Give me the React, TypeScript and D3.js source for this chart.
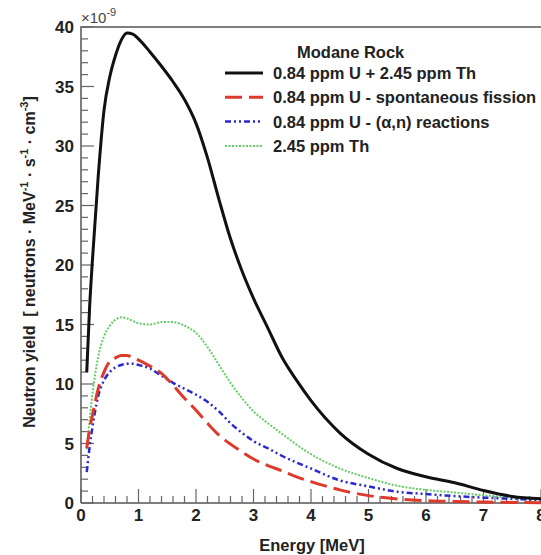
import React, { useEffect, useRef } from 'react';
import * as d3 from 'd3';

// energy grid [MeV]
const energy = [0.1, 0.15, 0.2, 0.3, 0.4, 0.5, 0.6, 0.7, 0.8, 0.9, 1.0, 1.2, 1.4, 1.6, 1.8, 2.0, 2.2, 2.4, 2.6, 2.8, 3.0, 3.25, 3.5, 3.75, 4.0, 4.5, 5.0, 5.5, 6.0, 6.5, 7.0, 7.5, 8.0];

// yields in units of 1e-9
const total = [11.0, 16.5, 20.5, 27.5, 33.0, 35.8, 37.6, 38.9, 39.5, 39.4, 39.0, 37.9, 36.7, 35.4, 33.9, 31.9, 29.0, 25.5, 22.2, 19.5, 17.2, 14.7, 12.2, 10.3, 8.6, 5.9, 4.1, 2.9, 2.2, 1.7, 1.05, 0.55, 0.35];
const fission = [4.6, 6.2, 7.4, 9.6, 11.0, 11.9, 12.2, 12.4, 12.4, 12.2, 12.0, 11.5, 10.9, 9.9, 8.8, 7.8, 6.7, 5.7, 4.95, 4.3, 3.7, 3.15, 2.7, 2.2, 1.8, 1.1, 0.62, 0.34, 0.2, 0.13, 0.08, 0.05, 0.03];
const alphaN = [2.6, 4.7, 6.4, 9.0, 10.3, 11.0, 11.4, 11.6, 11.7, 11.7, 11.6, 11.3, 10.7, 10.1, 9.6, 9.1, 8.5, 7.7, 6.7, 5.9, 5.2, 4.6, 3.95, 3.4, 2.9, 1.9, 1.4, 0.95, 0.75, 0.58, 0.45, 0.35, 0.25];
const thorium = [4.5, 7.0, 9.2, 12.3, 14.0, 14.9, 15.4, 15.6, 15.5, 15.3, 15.1, 15.0, 15.2, 15.2, 14.9, 14.3, 13.1, 11.6, 10.1, 8.8, 7.7, 6.7, 5.8, 4.9, 4.1, 2.9, 2.1, 1.45, 1.1, 0.88, 0.65, 0.45, 0.3];

const xTicks = [0, 1, 2, 3, 4, 5, 6, 7, 8];
const yTicks = [0, 5, 10, 15, 20, 25, 30, 35, 40];

const series = [
  { label: '0.84 ppm U + 2.45 ppm Th', values: total, color: '#111', width: 3, dash: null },
  { label: '0.84 ppm U - spontaneous fission', values: fission, color: '#dd3a2c', width: 3, dash: '17,7' },
  { label: '0.84 ppm U - (α,n) reactions', values: alphaN, color: '#2a2ad0', width: 2.5, dash: '6,3,2,3,2,3' },
  { label: '2.45 ppm Th', values: thorium, color: '#66cc66', width: 2, dash: '2,1.5' },
];

const App = () => {
  const svgRef = useRef(null);

  useEffect(() => {
    const svg = d3.select(svgRef.current);
    svg.selectAll('*').remove();
    const font = 'Liberation Sans, Arial, Helvetica, sans-serif';

    const x = d3.scaleLinear().domain([0, 8]).range([81, 541]);
    const y = d3.scaleLinear().domain([0, 40]).range([503, 27]);

    // frame
    svg.append('path')
      .attr('d', `M${x(0)},${y(0)}V${y(40)}H${x(8)}M${x(0)},${y(0)}H${x(8)}`)
      .attr('fill', 'none').attr('stroke', '#555').attr('stroke-width', 1.5);

    // ticks (inside, ROOT style)
    const g = svg.append('g').attr('stroke', '#666').attr('stroke-width', 1.2);
    d3.range(0, 40.01, 1).forEach(v => {
      const len = v % 5 === 0 ? 13 : 7;
      g.append('line').attr('x1', x(0)).attr('x2', x(0) + len).attr('y1', y(v)).attr('y2', y(v));
    });
    d3.range(0, 8.01, 0.2).forEach(v => {
      const major = Math.abs(v - Math.round(v)) < 1e-6;
      const len = major ? 14 : 7;
      g.append('line').attr('x1', x(v)).attr('x2', x(v)).attr('y1', y(0)).attr('y2', y(0) - len);
    });

    // tick labels
    svg.append('g').selectAll('text').data(yTicks).enter().append('text')
      .attr('x', x(0) - 7).attr('y', d => y(d) + 6)
      .attr('text-anchor', 'end').attr('font-family', font).attr('font-weight', 'bold')
      .attr('font-size', 17).attr('fill', '#222').text(d => d);
    svg.append('g').selectAll('text').data(xTicks).enter().append('text')
      .attr('x', d => x(d)).attr('y', 521)
      .attr('text-anchor', 'middle').attr('font-family', font).attr('font-weight', 'bold')
      .attr('font-size', 17).attr('fill', '#222').text(d => d);

    // exponent
    const exp = svg.append('text').attr('x', x(0)).attr('y', 23)
      .attr('font-family', font).attr('font-size', 15).attr('fill', '#444');
    exp.append('tspan').text('×10');
    exp.append('tspan').attr('dy', -7).attr('font-size', 11).text('-9');

    // axis titles
    svg.append('text').attr('x', 312).attr('y', 551).attr('text-anchor', 'middle')
      .attr('font-family', font).attr('font-weight', 'bold').attr('font-size', 16.5)
      .attr('fill', '#222').text('Energy [MeV]');

    const yt = svg.append('text').attr('transform', 'translate(35,262) rotate(-90)')
      .attr('text-anchor', 'middle').attr('font-family', font).attr('font-weight', 'bold')
      .attr('font-size', 16).attr('fill', '#222').style('white-space', 'pre');
    yt.append('tspan').text('Neutron yield  [ neutrons · MeV');
    yt.append('tspan').attr('dy', -7).attr('font-size', 11).text('-1');
    yt.append('tspan').attr('dy', 7).text(' · s');
    yt.append('tspan').attr('dy', -7).attr('font-size', 11).text('-1');
    yt.append('tspan').attr('dy', 7).text(' · cm');
    yt.append('tspan').attr('dy', -7).attr('font-size', 11).text('-3');
    yt.append('tspan').attr('dy', 7).text(']');

    // curves
    const line = d3.line<number>()
      .x((_, i) => x(energy[i]))
      .y(d => y(d))
      .curve(d3.curveMonotoneX);

    [series[3], series[2], series[1], series[0]].forEach(s => {
      svg.append('path')
        .attr('d', line(s.values))
        .attr('fill', 'none')
        .attr('stroke', s.color)
        .attr('stroke-width', s.width)
        .attr('stroke-dasharray', s.dash)
        .attr('stroke-linejoin', 'round');
    });

    // legend
    svg.append('text').attr('x', 297).attr('y', 58)
      .attr('font-family', font).attr('font-weight', 'bold').attr('font-size', 16.5)
      .attr('fill', '#222').text('Modane Rock');
    series.forEach((s, i) => {
      const ly = 79 + i * 24.3;
      svg.append('line').attr('x1', 225).attr('x2', 263).attr('y1', ly - 6).attr('y2', ly - 6)
        .attr('stroke', s.color).attr('stroke-width', s.width).attr('stroke-dasharray', s.dash);
      svg.append('text').attr('x', 273).attr('y', ly)
        .attr('font-family', font).attr('font-weight', 'bold').attr('font-size', 16.5)
        .attr('fill', '#222').text(s.label);
    });
  }, []);

  return (
    <svg ref={svgRef} width={541} height={555}
      style={{ position: 'absolute', left: 0, top: 0, background: '#fff' }} />
  );
};

export default App;
